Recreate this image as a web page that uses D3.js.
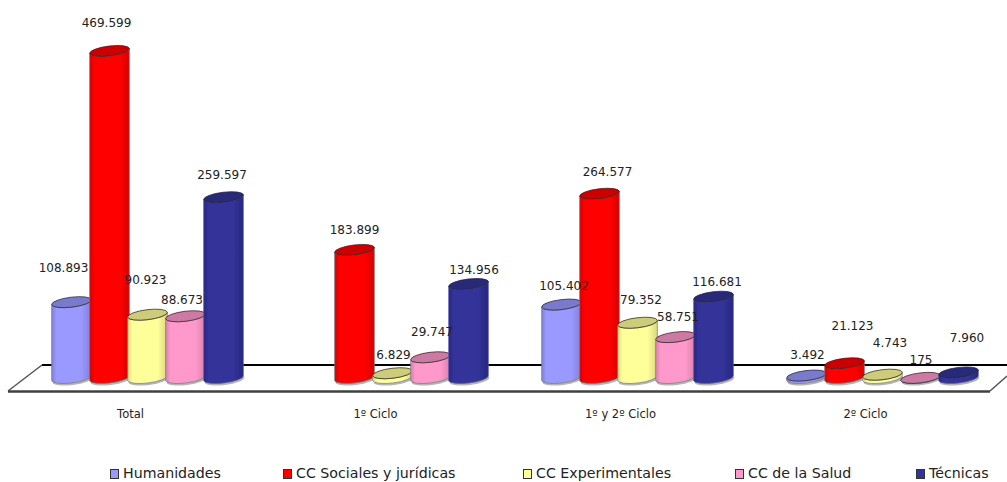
<!DOCTYPE html>
<html><head><meta charset="utf-8">
<script src="https://cdn.jsdelivr.net/npm/d3@7/dist/d3.min.js"></script>
<style>html,body{margin:0;padding:0;background:#fff;overflow:hidden}svg{display:block}text{font-family:"DejaVu Sans",Verdana,sans-serif;fill:#222}</style>
</head><body><svg id="c" width="1007" height="482"></svg>
<script>
const categories = ["Total","1º Ciclo","1º y 2º Ciclo","2º Ciclo"];
const seriesNames = ["Humanidades","CC Sociales y jurídicas","CC Experimentales","CC de la Salud","Técnicas"];
const humanidades = [108893,null,105402,3492];
const sociales = [469599,183899,264577,21123];
const experimentales = [90923,6829,79352,4743];
const salud = [88673,29747,58751,175];
const tecnicas = [259597,134956,116681,7960];
const valueLabels = [
  ["108.893",null,"105.402","3.492"],
  ["469.599","183.899","264.577","21.123"],
  ["90.923","6.829","79.352","4.743"],
  ["88.673","29.747","58.751","175"],
  ["259.597","134.956","116.681","7.960"]];
const allSeries = [humanidades,sociales,experimentales,salud,tecnicas];

// layout and styling, kept apart from the data
const colors = ["#9999ff","#ff0000","#ffff99","#ff99cc","#333399"];
const topColors = ["#7a7acc","#cc0000","#cccc7a","#cc7aa3","#29297a"];
const darkColors = ["#7f7fd8","#d80000","#d8d880","#d880ab","#262680"];
const legendX = [110,283,523,735,916];
const labelNudge = [
  [[-8,-34],null,[2.5,-19],[1,-21]],
  [[-3,-28],[0,-20],[8,-22],[8,-37]],
  [[-2,-35],[1,-18],[3.5,-23],[7.5,-32]],
  [[-3.5,-16],[1.5,-25],[2.5,-20],[0.5,-18]],
  [[-1.5,-22],[5.5,-14],[3.5,-15],[8.5,-34.5]]];

const svg = d3.select("#c");
const baseY = 378, rx = 20, ry = 5, tilt = 7;
const x0 = d3.scaleBand().domain(categories).range([25,1005]);
const x1 = d3.scaleBand().domain(seriesNames).range([27.5,217.5]);
const y = d3.scaleLinear().domain([0,469599]).range([baseY,51]);

const defs = svg.append("defs");
seriesNames.forEach((s,i)=>{
  const g = defs.append("linearGradient").attr("id","g"+i);
  [[0,darkColors[i]],[.12,colors[i]],[.75,colors[i]],[1,darkColors[i]]].forEach(d=>
    g.append("stop").attr("offset",d[0]).attr("stop-color",d[1]));
});

// floor
const line = d3.line();
svg.append("path").attr("d",line([[42,365],[1007,365]])).attr("stroke","#000").attr("stroke-width",2).attr("fill","none");
svg.append("path").attr("d",line([[42,365],[8,391]])).attr("stroke","#555").attr("stroke-width",1.5).attr("fill","none");
svg.append("path").attr("d",line([[990,391],[1007,376]])).attr("stroke","#555").attr("stroke-width",1.5).attr("fill","none");
svg.append("path").attr("d",line([[8,391.5],[990,391.5]])).attr("stroke","#404040").attr("stroke-width",2.5).attr("fill","none");

const dx = rx*Math.cos(tilt*Math.PI/180), dy = rx*Math.sin(tilt*Math.PI/180);
const marks = svg.append("g");
allSeries.forEach((vals,si)=>{
  const g = marks.append("g");
  vals.forEach((v,ci)=>{
    if(v===null) return;
    const cx = x0(categories[ci]) + x1(seriesNames[si]) + x1.bandwidth()/2;
    const yt = y(v), yb = y(0);
    g.append("ellipse").attr("cx",cx+1).attr("cy",yb+2).attr("rx",rx).attr("ry",ry)
      .attr("transform",`rotate(${-tilt} ${cx+1} ${yb+2})`).attr("fill","#b5b5b5");
    const arc = `A${rx} ${ry} ${-tilt} 0 `;
    g.append("path")
      .attr("d",`M${cx-dx} ${yt+dy}L${cx-dx} ${yb+dy}${arc}0 ${cx+dx} ${yb-dy}L${cx+dx} ${yt-dy}${arc}1 ${cx-dx} ${yt+dy}Z`)
      .attr("fill",`url(#g${si})`).attr("stroke",si===4?"#5a5ab8":"#77777a").attr("stroke-width",.7);
    g.append("ellipse").attr("cx",cx).attr("cy",yt).attr("rx",rx).attr("ry",ry)
      .attr("transform",`rotate(${-tilt} ${cx} ${yt})`).attr("fill",topColors[si])
      .attr("stroke","#222").attr("stroke-width",.7);
  });
});

// value labels
allSeries.forEach((vals,si)=>vals.forEach((v,ci)=>{
  if(v===null) return;
  const cx = x0(categories[ci]) + x1(seriesNames[si]) + x1.bandwidth()/2;
  const n = labelNudge[si][ci];
  svg.append("text").attr("x",cx+n[0]).attr("y",y(v)+n[1]).attr("dy","0.35em")
    .attr("text-anchor","middle").attr("font-size",12).text(valueLabels[si][ci]);
}));

// category axis
const axis = svg.append("g").attr("transform","translate(-17,0)");
axis.selectAll("text").data(categories).join("text")
  .attr("x",d=>x0(d)+x0.bandwidth()/2).attr("y",414).attr("dy","0.35em")
  .attr("text-anchor","middle").attr("font-size",11.5).text(d=>d);

// legend
const lg = svg.append("g").selectAll("g").data(seriesNames).join("g")
  .attr("transform",(d,i)=>`translate(${legendX[i]},0)`);
lg.append("rect").attr("x",.5).attr("y",469.5).attr("width",8).attr("height",9)
  .attr("fill",(d,i)=>colors[i]).attr("stroke","#333").attr("stroke-width",1);
lg.append("text").attr("x",13).attr("y",478).attr("font-size",14.2).text(d=>d);
</script></body></html>
